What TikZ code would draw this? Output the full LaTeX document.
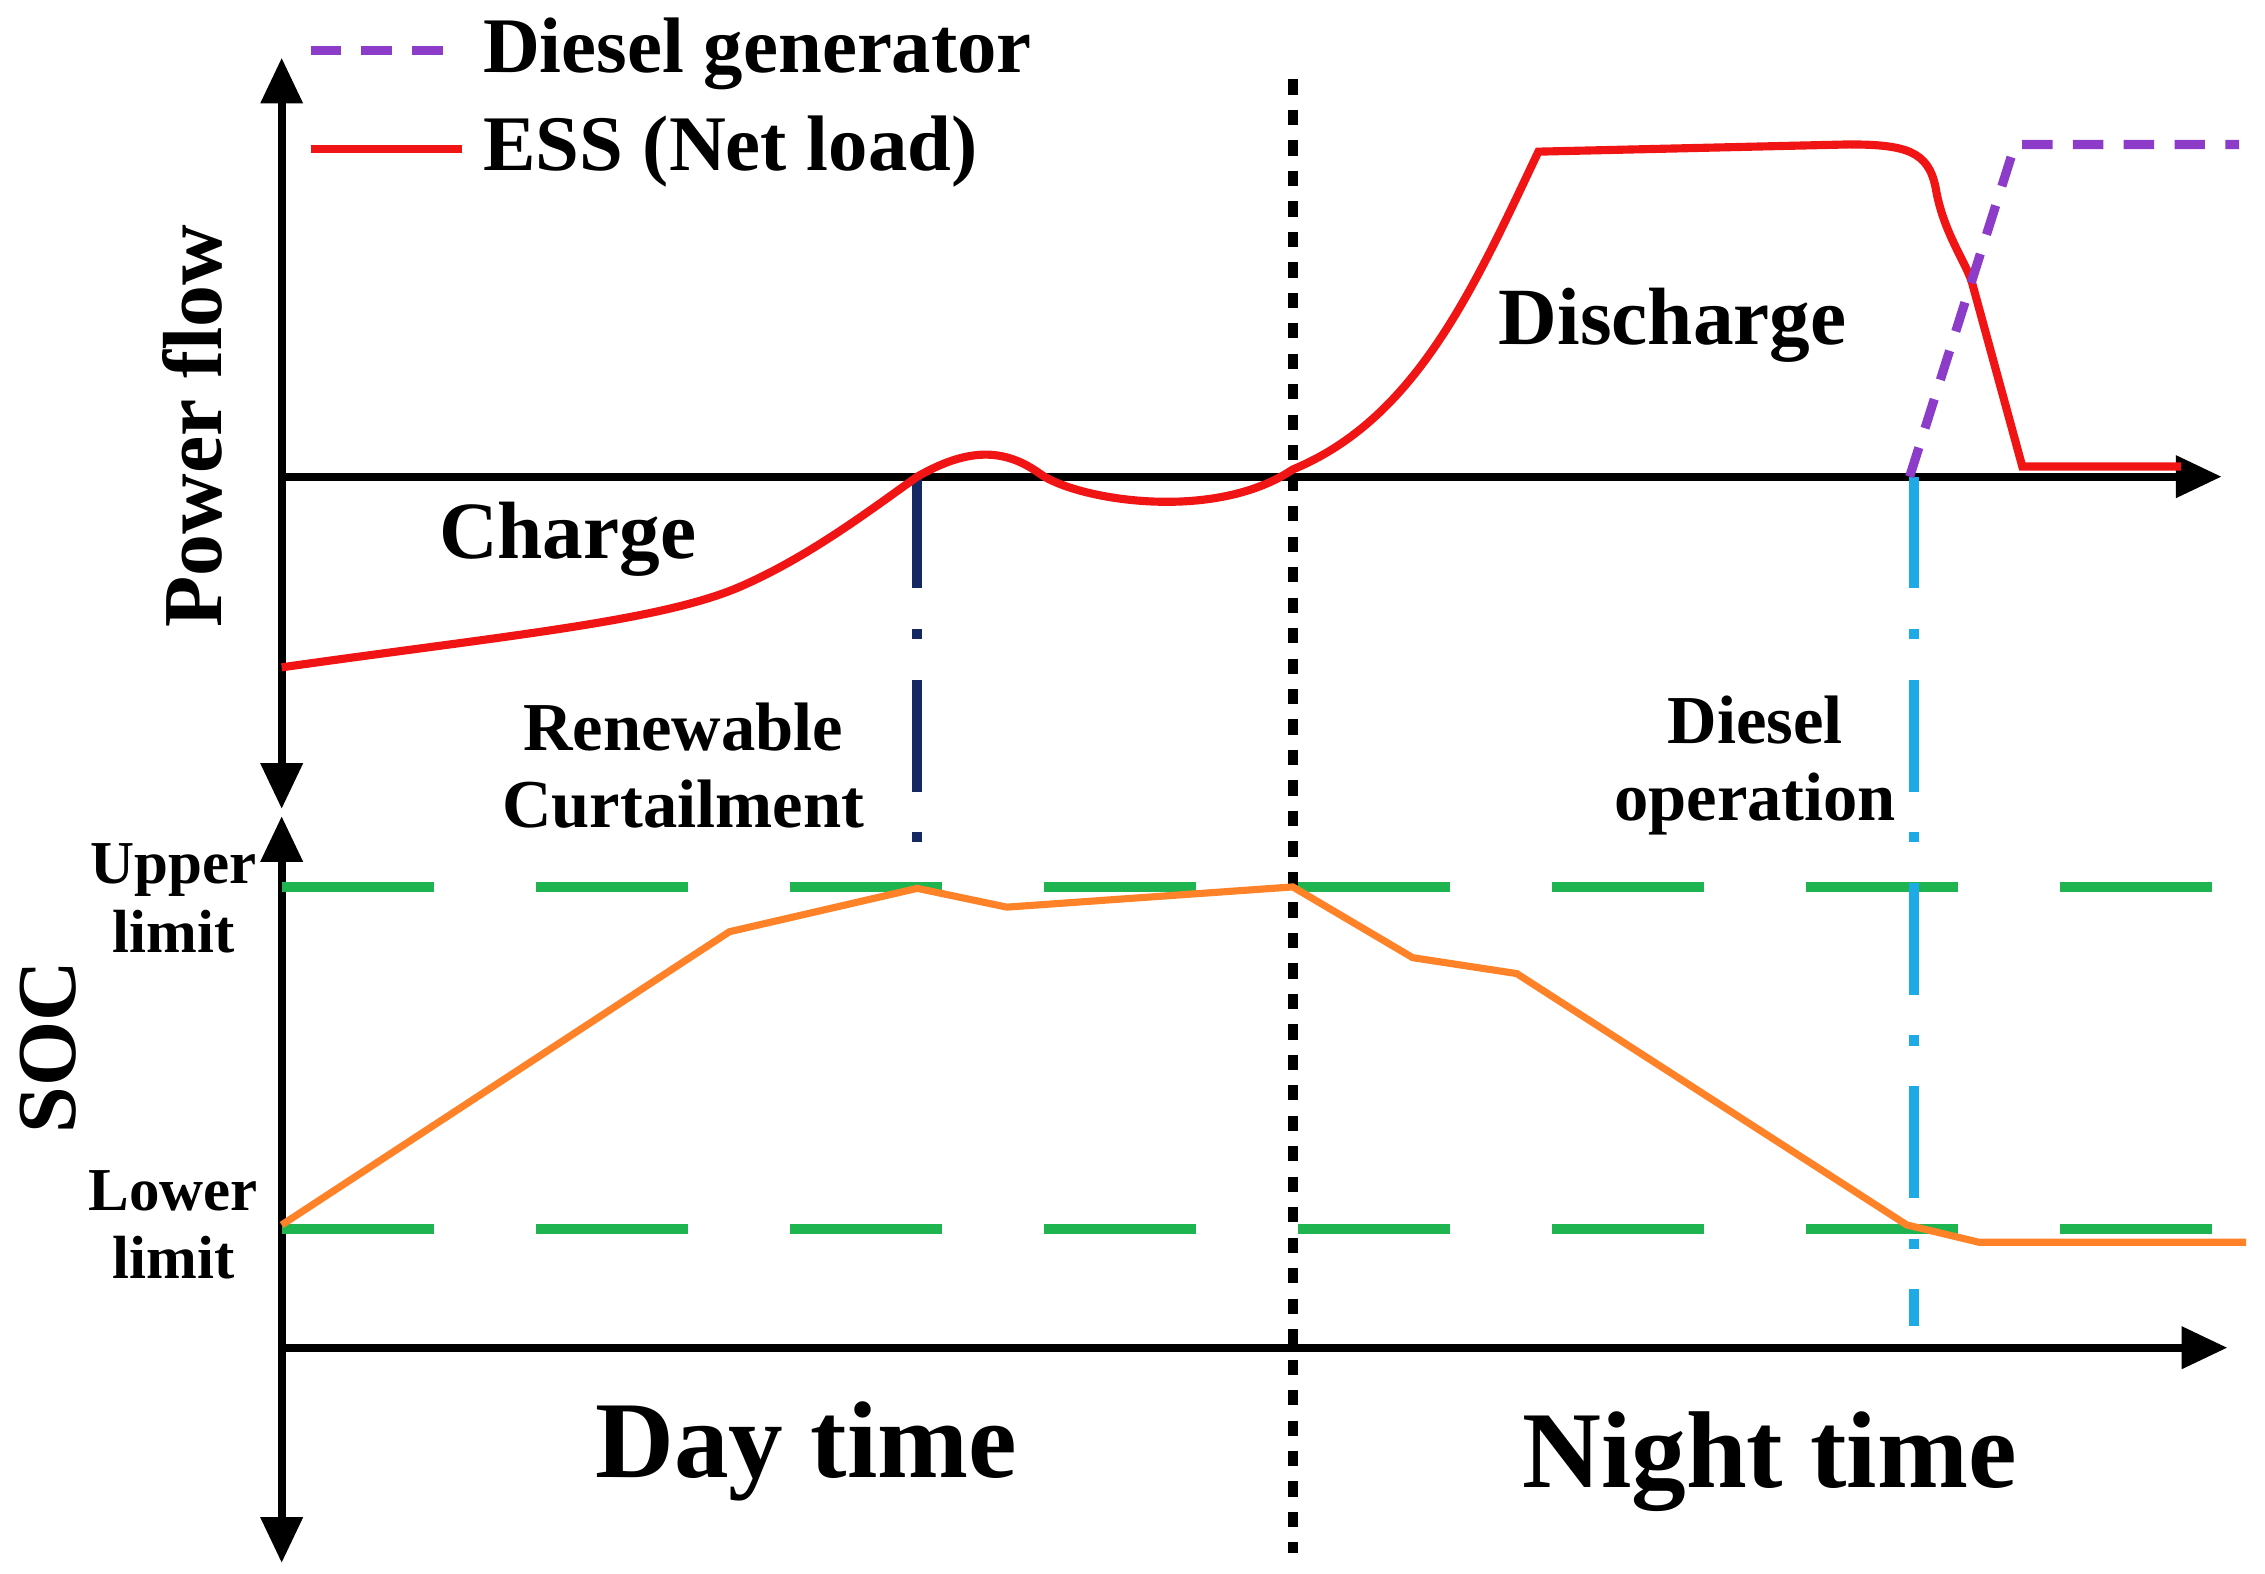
\documentclass[tikz,border=0pt]{standalone}
\usepackage{fontspec}
\setmainfont{Liberation Serif}
\usetikzlibrary{arrows.meta}
\definecolor{ess}{RGB}{240,20,20}
\definecolor{dg}{RGB}{140,60,200}
\definecolor{soc}{RGB}{255,130,40}
\definecolor{lim}{RGB}{30,180,80}
\definecolor{navy}{RGB}{20,40,100}
\definecolor{cy}{RGB}{30,170,230}
\tikzset{
 axis/.style={line width=1.6pt,-{Triangle[length=9pt,width=8pt]}},
 daxis/.style={line width=1.6pt,{Triangle[length=9pt,width=8pt]}-{Triangle[length=9pt,width=8pt]}},
 lbl/.style={font=\bfseries\fontsize{13.5}{15}\selectfont,align=center},
 limline/.style={lim,line width=2pt,dash pattern=on 30pt off 20pt},
}
\begin{document}
\begin{tikzpicture}[x=0.01cm,y=-0.01cm]
\useasboundingbox (0,0) rectangle (1568,1089);
% axes
\coordinate (ya1) at (195,40); \coordinate (ya2) at (195,560);
\coordinate (yb1) at (195,565); \coordinate (yb2) at (195,1082);
\coordinate (xa1) at (195,330); \coordinate (xa2) at (1538,330);
\coordinate (xb1) at (195,933); \coordinate (xb2) at (1542,933);
\draw[daxis] (ya1) -- (ya2);
\draw[daxis] (yb1) -- (yb2);
\draw[axis] (xa1) -- (xa2);
\draw[axis] (xb1) -- (xb2);
% day/night separator
\coordinate (s1) at (895,55); \coordinate (s2) at (895,1075);
\draw[line width=2pt,dash pattern=on 3pt off 3pt] (s1) -- (s2);
% limits
\coordinate (u1) at (195,614); \coordinate (u2) at (1560,614);
\coordinate (l1) at (195,851); \coordinate (l2) at (1560,851);
\draw[limline] (u1) -- (u2);
\draw[limline] (l1) -- (l2);
% markers
\coordinate (n1) at (635,330); \coordinate (n2) at (635,595);
\draw[navy,line width=2pt,dash pattern=on 22pt off 8pt on 2pt off 8pt] (n1) -- (n2);
\coordinate (c1) at (1325,330); \coordinate (c2) at (1325,918);
\draw[cy,line width=2pt,dash pattern=on 22pt off 8pt on 2pt off 8pt] (c1) -- (c2);
% ESS curve
\draw[ess,line width=1.6pt] (195,462) .. controls (350,440) and (460,430) .. (515,405)
 .. controls (560,385) and (600,355) .. (635,330)
 .. controls (670,310) and (695,310) .. (720,328)
 .. controls (745,346) and (840,362) .. (895,325)
 .. controls (980,290) and (1020,200) .. (1065,105)
 -- (1280,100) .. controls (1320,100) and (1335,105) .. (1340,130)
 .. controls (1345,160) and (1360,180) .. (1365,195) -- (1400,323) -- (1510,323);
% diesel
\draw[dg,line width=1.8pt,dash pattern=on 6pt off 4pt] (1322,330) -- (1395,100) -- (1550,100);
% SOC
\draw[soc,line width=1.4pt] (195,848) -- (505,645) -- (635,615) -- (697,628) -- (895,614) -- (978,663) -- (1050,674) -- (1320,848) -- (1370,860) -- (1555,860);
% legend
\coordinate (g1) at (215,35); \coordinate (g2) at (320,35);
\draw[dg,line width=1.8pt,dash pattern=on 6pt off 4pt] (g1) -- (g2);
\node[anchor=west,font=\bfseries\fontsize{15.5}{17}\selectfont] (gl) at (322,37) {Diesel generator};
\coordinate (e1) at (215,103); \coordinate (e2) at (320,103);
\draw[ess,line width=1.6pt] (e1) -- (e2);
\node[anchor=west,font=\bfseries\fontsize{15.5}{17}\selectfont] (el) at (322,105) {ESS (Net load)};
% labels
\node[rotate=90,font=\bfseries\fontsize{16.5}{18}\selectfont] (pf) at (133,295) {Power flow};
\node[rotate=90,font=\bfseries\fontsize{16.5}{18}\selectfont] (sc) at (33,725) {SOC};
\node[lbl,font=\bfseries\fontsize{12}{13.5}\selectfont] (ul) at (120,622) {Upper\\limit};
\node[lbl,font=\bfseries\fontsize{12}{13.5}\selectfont] (ll) at (120,848) {Lower\\limit};
\node[font=\bfseries\fontsize{16}{18}\selectfont] (ch) at (393,373) {Charge};
\node[font=\bfseries\fontsize{16}{18}\selectfont] (dc) at (1158,225) {Discharge};
\node[lbl] (rc) at (473,530) {Renewable\\Curtailment};
\node[lbl] (do) at (1215,530) {Diesel\\operation};
\node[font=\bfseries\fontsize{21.5}{24}\selectfont] (dt) at (558,1005) {Day time};
\node[font=\bfseries\fontsize{21.5}{24}\selectfont] (nt) at (1225,1012) {Night time};
\end{tikzpicture}
\end{document}
